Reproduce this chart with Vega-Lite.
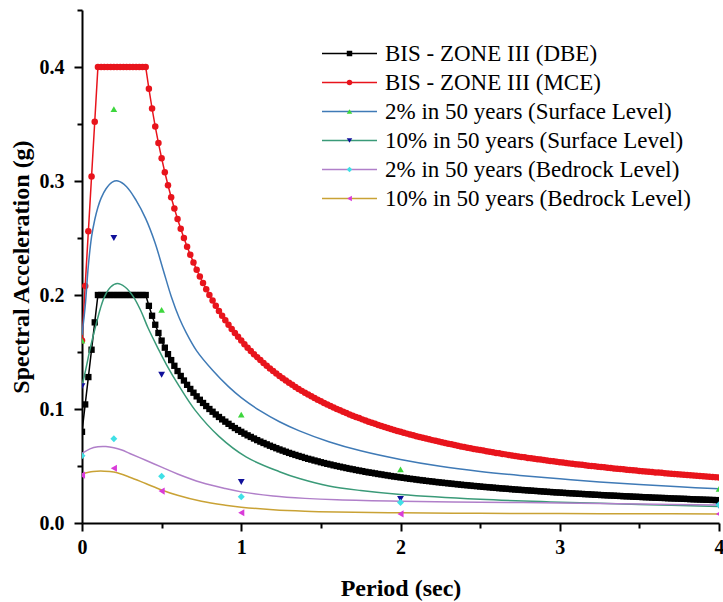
{
"$schema":"https://vega.github.io/schema/vega-lite/v6.json",
"width":637,"height":513,
"autosize":{"type":"none"},
"padding":{"left":82,"top":10,"right":4,"bottom":79},
"config":{"view":{"stroke":null},"font":"Liberation Serif"},
"datasets":{
"bis":[
{"T":0,"D":0.08,"M":0.16},{"T":0.02,"D":0.104,"M":0.208},{"T":0.04,"D":0.128,"M":0.256},{"T":0.06,"D":0.152,"M":0.304},{"T":0.08,"D":0.176,"M":0.352},
{"T":0.1,"D":0.2,"M":0.4},{"T":0.12,"D":0.2,"M":0.4},{"T":0.14,"D":0.2,"M":0.4},{"T":0.16,"D":0.2,"M":0.4},{"T":0.18,"D":0.2,"M":0.4},{"T":0.2,"D":0.2,"M":0.4},{"T":0.22,"D":0.2,"M":0.4},{"T":0.24,"D":0.2,"M":0.4},{"T":0.26,"D":0.2,"M":0.4},{"T":0.28,"D":0.2,"M":0.4},{"T":0.3,"D":0.2,"M":0.4},{"T":0.32,"D":0.2,"M":0.4},{"T":0.34,"D":0.2,"M":0.4},{"T":0.36,"D":0.2,"M":0.4},{"T":0.38,"D":0.2,"M":0.4},{"T":0.4,"D":0.2,"M":0.4},
{"T":0.42,"D":0.1905,"M":0.381},{"T":0.44,"D":0.1818,"M":0.3636},{"T":0.46,"D":0.1739,"M":0.3478},{"T":0.48,"D":0.1667,"M":0.3333},{"T":0.5,"D":0.16,"M":0.32},{"T":0.52,"D":0.1538,"M":0.3077},{"T":0.54,"D":0.1481,"M":0.2963},{"T":0.56,"D":0.1429,"M":0.2857},{"T":0.58,"D":0.1379,"M":0.2759},{"T":0.6,"D":0.1333,"M":0.2667},
{"T":0.62,"D":0.129,"M":0.2581},{"T":0.64,"D":0.125,"M":0.25},{"T":0.66,"D":0.1212,"M":0.2424},{"T":0.68,"D":0.1176,"M":0.2353},{"T":0.7,"D":0.1143,"M":0.2286},{"T":0.72,"D":0.1111,"M":0.2222},{"T":0.74,"D":0.1081,"M":0.2162},{"T":0.76,"D":0.1053,"M":0.2105},{"T":0.78,"D":0.1026,"M":0.2051},{"T":0.8,"D":0.1,"M":0.2},
{"T":0.82,"D":0.0976,"M":0.1951},{"T":0.84,"D":0.0952,"M":0.1905},{"T":0.86,"D":0.093,"M":0.186},{"T":0.88,"D":0.0909,"M":0.1818},{"T":0.9,"D":0.0889,"M":0.1778},{"T":0.92,"D":0.087,"M":0.1739},{"T":0.94,"D":0.0851,"M":0.1702},{"T":0.96,"D":0.0833,"M":0.1667},{"T":0.98,"D":0.0816,"M":0.1633},{"T":1,"D":0.08,"M":0.16},
{"T":1.02,"D":0.0784,"M":0.1569},{"T":1.04,"D":0.0769,"M":0.1538},{"T":1.06,"D":0.0755,"M":0.1509},{"T":1.08,"D":0.0741,"M":0.1481},{"T":1.1,"D":0.0727,"M":0.1455},{"T":1.12,"D":0.0714,"M":0.1429},{"T":1.14,"D":0.0702,"M":0.1404},{"T":1.16,"D":0.069,"M":0.1379},{"T":1.18,"D":0.0678,"M":0.1356},{"T":1.2,"D":0.0667,"M":0.1333},
{"T":1.22,"D":0.0656,"M":0.1311},{"T":1.24,"D":0.0645,"M":0.129},{"T":1.26,"D":0.0635,"M":0.127},{"T":1.28,"D":0.0625,"M":0.125},{"T":1.3,"D":0.0615,"M":0.1231},{"T":1.32,"D":0.0606,"M":0.1212},{"T":1.34,"D":0.0597,"M":0.1194},{"T":1.36,"D":0.0588,"M":0.1176},{"T":1.38,"D":0.058,"M":0.1159},{"T":1.4,"D":0.0571,"M":0.1143},
{"T":1.42,"D":0.0563,"M":0.1127},{"T":1.44,"D":0.0556,"M":0.1111},{"T":1.46,"D":0.0548,"M":0.1096},{"T":1.48,"D":0.0541,"M":0.1081},{"T":1.5,"D":0.0533,"M":0.1067},{"T":1.52,"D":0.0526,"M":0.1053},{"T":1.54,"D":0.0519,"M":0.1039},{"T":1.56,"D":0.0513,"M":0.1026},{"T":1.58,"D":0.0506,"M":0.1013},{"T":1.6,"D":0.05,"M":0.1},
{"T":1.62,"D":0.0494,"M":0.0988},{"T":1.64,"D":0.0488,"M":0.0976},{"T":1.66,"D":0.0482,"M":0.0964},{"T":1.68,"D":0.0476,"M":0.0952},{"T":1.7,"D":0.0471,"M":0.0941},{"T":1.72,"D":0.0465,"M":0.093},{"T":1.74,"D":0.046,"M":0.092},{"T":1.76,"D":0.0455,"M":0.0909},{"T":1.78,"D":0.0449,"M":0.0899},{"T":1.8,"D":0.0444,"M":0.0889},
{"T":1.82,"D":0.044,"M":0.0879},{"T":1.84,"D":0.0435,"M":0.087},{"T":1.86,"D":0.043,"M":0.086},{"T":1.88,"D":0.0426,"M":0.0851},{"T":1.9,"D":0.0421,"M":0.0842},{"T":1.92,"D":0.0417,"M":0.0833},{"T":1.94,"D":0.0412,"M":0.0825},{"T":1.96,"D":0.0408,"M":0.0816},{"T":1.98,"D":0.0404,"M":0.0808},{"T":2,"D":0.04,"M":0.08},
{"T":2.02,"D":0.0396,"M":0.0792},{"T":2.04,"D":0.0392,"M":0.0784},{"T":2.06,"D":0.0388,"M":0.0777},{"T":2.08,"D":0.0385,"M":0.0769},{"T":2.1,"D":0.0381,"M":0.0762},{"T":2.12,"D":0.0377,"M":0.0755},{"T":2.14,"D":0.0374,"M":0.0748},{"T":2.16,"D":0.037,"M":0.0741},{"T":2.18,"D":0.0367,"M":0.0734},{"T":2.2,"D":0.0364,"M":0.0727},
{"T":2.22,"D":0.036,"M":0.0721},{"T":2.24,"D":0.0357,"M":0.0714},{"T":2.26,"D":0.0354,"M":0.0708},{"T":2.28,"D":0.0351,"M":0.0702},{"T":2.3,"D":0.0348,"M":0.0696},{"T":2.32,"D":0.0345,"M":0.069},{"T":2.34,"D":0.0342,"M":0.0684},{"T":2.36,"D":0.0339,"M":0.0678},{"T":2.38,"D":0.0336,"M":0.0672},{"T":2.4,"D":0.0333,"M":0.0667},
{"T":2.42,"D":0.0331,"M":0.0661},{"T":2.44,"D":0.0328,"M":0.0656},{"T":2.46,"D":0.0325,"M":0.065},{"T":2.48,"D":0.0323,"M":0.0645},{"T":2.5,"D":0.032,"M":0.064},{"T":2.52,"D":0.0317,"M":0.0635},{"T":2.54,"D":0.0315,"M":0.063},{"T":2.56,"D":0.0313,"M":0.0625},{"T":2.58,"D":0.031,"M":0.062},{"T":2.6,"D":0.0308,"M":0.0615},
{"T":2.62,"D":0.0305,"M":0.0611},{"T":2.64,"D":0.0303,"M":0.0606},{"T":2.66,"D":0.0301,"M":0.0602},{"T":2.68,"D":0.0299,"M":0.0597},{"T":2.7,"D":0.0296,"M":0.0593},{"T":2.72,"D":0.0294,"M":0.0588},{"T":2.74,"D":0.0292,"M":0.0584},{"T":2.76,"D":0.029,"M":0.058},{"T":2.78,"D":0.0288,"M":0.0576},{"T":2.8,"D":0.0286,"M":0.0571},
{"T":2.82,"D":0.0284,"M":0.0567},{"T":2.84,"D":0.0282,"M":0.0563},{"T":2.86,"D":0.028,"M":0.0559},{"T":2.88,"D":0.0278,"M":0.0556},{"T":2.9,"D":0.0276,"M":0.0552},{"T":2.92,"D":0.0274,"M":0.0548},{"T":2.94,"D":0.0272,"M":0.0544},{"T":2.96,"D":0.027,"M":0.0541},{"T":2.98,"D":0.0268,"M":0.0537},{"T":3,"D":0.0267,"M":0.0533},
{"T":3.02,"D":0.0265,"M":0.053},{"T":3.04,"D":0.0263,"M":0.0526},{"T":3.06,"D":0.0261,"M":0.0523},{"T":3.08,"D":0.026,"M":0.0519},{"T":3.1,"D":0.0258,"M":0.0516},{"T":3.12,"D":0.0256,"M":0.0513},{"T":3.14,"D":0.0255,"M":0.051},{"T":3.16,"D":0.0253,"M":0.0506},{"T":3.18,"D":0.0252,"M":0.0503},{"T":3.2,"D":0.025,"M":0.05},
{"T":3.22,"D":0.0248,"M":0.0497},{"T":3.24,"D":0.0247,"M":0.0494},{"T":3.26,"D":0.0245,"M":0.0491},{"T":3.28,"D":0.0244,"M":0.0488},{"T":3.3,"D":0.0242,"M":0.0485},{"T":3.32,"D":0.0241,"M":0.0482},{"T":3.34,"D":0.024,"M":0.0479},{"T":3.36,"D":0.0238,"M":0.0476},{"T":3.38,"D":0.0237,"M":0.0473},{"T":3.4,"D":0.0235,"M":0.0471},
{"T":3.42,"D":0.0234,"M":0.0468},{"T":3.44,"D":0.0233,"M":0.0465},{"T":3.46,"D":0.0231,"M":0.0462},{"T":3.48,"D":0.023,"M":0.046},{"T":3.5,"D":0.0229,"M":0.0457},{"T":3.52,"D":0.0227,"M":0.0455},{"T":3.54,"D":0.0226,"M":0.0452},{"T":3.56,"D":0.0225,"M":0.0449},{"T":3.58,"D":0.0223,"M":0.0447},{"T":3.6,"D":0.0222,"M":0.0444},
{"T":3.62,"D":0.0221,"M":0.0442},{"T":3.64,"D":0.022,"M":0.044},{"T":3.66,"D":0.0219,"M":0.0437},{"T":3.68,"D":0.0217,"M":0.0435},{"T":3.7,"D":0.0216,"M":0.0432},{"T":3.72,"D":0.0215,"M":0.043},{"T":3.74,"D":0.0214,"M":0.0428},{"T":3.76,"D":0.0213,"M":0.0426},{"T":3.78,"D":0.0212,"M":0.0423},{"T":3.8,"D":0.0211,"M":0.0421},
{"T":3.82,"D":0.0209,"M":0.0419},{"T":3.84,"D":0.0208,"M":0.0417},{"T":3.86,"D":0.0207,"M":0.0415},{"T":3.88,"D":0.0206,"M":0.0412},{"T":3.9,"D":0.0205,"M":0.041},{"T":3.92,"D":0.0204,"M":0.0408},{"T":3.94,"D":0.0203,"M":0.0406},{"T":3.96,"D":0.0202,"M":0.0404},{"T":3.98,"D":0.0201,"M":0.0402},{"T":4,"D":0.02,"M":0.04}
],
"fit":[
{"s":"S2","T":0,"v":0.165},{"s":"S2","T":0.02,"v":0.19},{"s":"S2","T":0.04,"v":0.226},{"s":"S2","T":0.06,"v":0.251},{"s":"S2","T":0.08,"v":0.266},{"s":"S2","T":0.1,"v":0.277},{"s":"S2","T":0.12,"v":0.285},{"s":"S2","T":0.15,"v":0.293},{"s":"S2","T":0.19,"v":0.299},{"s":"S2","T":0.226,"v":0.3},{"s":"S2","T":0.28,"v":0.295},{"s":"S2","T":0.34,"v":0.283},{"s":"S2","T":0.4,"v":0.267},{"s":"S2","T":0.457,"v":0.2465},{"s":"S2","T":0.51,"v":0.222},{"s":"S2","T":0.562,"v":0.198},{"s":"S2","T":0.61,"v":0.18},{"s":"S2","T":0.654,"v":0.167},{"s":"S2","T":0.72,"v":0.151},{"s":"S2","T":0.82,"v":0.134},{"s":"S2","T":0.92,"v":0.1196},{"s":"S2","T":1,"v":0.11},{"s":"S2","T":1.12,"v":0.0983},{"s":"S2","T":1.24,"v":0.0888},{"s":"S2","T":1.365,"v":0.0808},{"s":"S2","T":1.55,"v":0.0713},{"s":"S2","T":1.75,"v":0.0633},{"s":"S2","T":2,"v":0.0557},{"s":"S2","T":2.25,"v":0.0497},{"s":"S2","T":2.5,"v":0.0452},{"s":"S2","T":2.75,"v":0.0417},{"s":"S2","T":3,"v":0.0388},{"s":"S2","T":3.25,"v":0.036},{"s":"S2","T":3.5,"v":0.0337},{"s":"S2","T":3.75,"v":0.0317},{"s":"S2","T":4,"v":0.03},
{"s":"S10","T":0,"v":0.12},{"s":"S10","T":0.024,"v":0.135},{"s":"S10","T":0.048,"v":0.151},{"s":"S10","T":0.07,"v":0.164},{"s":"S10","T":0.09,"v":0.175},{"s":"S10","T":0.115,"v":0.188},{"s":"S10","T":0.143,"v":0.199},{"s":"S10","T":0.18,"v":0.207},{"s":"S10","T":0.222,"v":0.21},{"s":"S10","T":0.27,"v":0.207},{"s":"S10","T":0.32,"v":0.199},{"s":"S10","T":0.37,"v":0.186},{"s":"S10","T":0.415,"v":0.171},{"s":"S10","T":0.478,"v":0.153},{"s":"S10","T":0.53,"v":0.139},{"s":"S10","T":0.61,"v":0.12},{"s":"S10","T":0.71,"v":0.099},{"s":"S10","T":0.86,"v":0.076},{"s":"S10","T":1.03,"v":0.058},{"s":"S10","T":1.24,"v":0.045},{"s":"S10","T":1.365,"v":0.039},{"s":"S10","T":1.55,"v":0.0325},{"s":"S10","T":1.75,"v":0.0285},{"s":"S10","T":2,"v":0.025},{"s":"S10","T":2.5,"v":0.0208},{"s":"S10","T":2.94,"v":0.0185},{"s":"S10","T":3.5,"v":0.0163},{"s":"S10","T":4,"v":0.0145},
{"s":"B2","T":0,"v":0.061},{"s":"B2","T":0.05,"v":0.065},{"s":"B2","T":0.1,"v":0.0668},{"s":"B2","T":0.15,"v":0.067},{"s":"B2","T":0.2,"v":0.066},{"s":"B2","T":0.25,"v":0.064},{"s":"B2","T":0.3,"v":0.061},{"s":"B2","T":0.4,"v":0.055},{"s":"B2","T":0.5,"v":0.049},{"s":"B2","T":0.6,"v":0.043},{"s":"B2","T":0.75,"v":0.0355},{"s":"B2","T":0.9,"v":0.0302},{"s":"B2","T":1,"v":0.0273},{"s":"B2","T":1.2,"v":0.0237},{"s":"B2","T":1.4,"v":0.0216},{"s":"B2","T":1.6,"v":0.0203},{"s":"B2","T":2,"v":0.019},{"s":"B2","T":2.5,"v":0.0182},{"s":"B2","T":3,"v":0.0176},{"s":"B2","T":3.5,"v":0.0167},{"s":"B2","T":4,"v":0.0157},
{"s":"B10","T":0,"v":0.043},{"s":"B10","T":0.07,"v":0.0452},{"s":"B10","T":0.14,"v":0.0455},{"s":"B10","T":0.2,"v":0.0447},{"s":"B10","T":0.3,"v":0.0402},{"s":"B10","T":0.4,"v":0.0346},{"s":"B10","T":0.5,"v":0.029},{"s":"B10","T":0.6,"v":0.0243},{"s":"B10","T":0.75,"v":0.019},{"s":"B10","T":0.9,"v":0.0156},{"s":"B10","T":1,"v":0.0139},{"s":"B10","T":1.2,"v":0.0116},{"s":"B10","T":1.4,"v":0.0103},{"s":"B10","T":1.6,"v":0.0096},{"s":"B10","T":2,"v":0.0089},{"s":"B10","T":2.5,"v":0.0085},{"s":"B10","T":3,"v":0.0083},{"s":"B10","T":3.5,"v":0.0081},{"s":"B10","T":4,"v":0.008}
],
"pts":[
{"m":"S2","T":0,"v":0.16},{"m":"S2","T":0.2,"v":0.363},{"m":"S2","T":0.5,"v":0.187},{"m":"S2","T":1,"v":0.095},{"m":"S2","T":2,"v":0.047},{"m":"S2","T":4,"v":0.03},
{"m":"S10","T":0,"v":0.12},{"m":"S10","T":0.2,"v":0.25},{"m":"S10","T":0.5,"v":0.13},{"m":"S10","T":1,"v":0.036},{"m":"S10","T":2,"v":0.021},{"m":"S10","T":4,"v":0.015},
{"m":"B2","T":0,"v":0.059},{"m":"B2","T":0.2,"v":0.074},{"m":"B2","T":0.5,"v":0.041},{"m":"B2","T":1,"v":0.023},{"m":"B2","T":2,"v":0.018},{"m":"B2","T":4,"v":0.016},
{"m":"B10","T":0,"v":0.042},{"m":"B10","T":0.2,"v":0.048},{"m":"B10","T":0.5,"v":0.028},{"m":"B10","T":1,"v":0.009},{"m":"B10","T":2,"v":0.008},{"m":"B10","T":4,"v":0.008}
]
},
"encoding":{
"x":{"field":"T","type":"quantitative","title":"Period (sec)","scale":{"domain":[0,4],"nice":false,"zero":false},
"axis":{"values":[0,0.5,1,1.5,2,2.5,3,3.5,4],"labelExpr":"datum.value % 1 === 0 ? '' + datum.value : ''","tickSize":{"condition":{"test":"datum.value % 1 !== 0","value":5},"value":8},"grid":false,"domainColor":"black","domainWidth":2,"tickColor":"black","tickWidth":2,"labelFont":"Liberation Serif","labelFontWeight":"bold","labelFontSize":20,"labelColor":"black","labelPadding":6,"labelFlush":false,"labelOverlap":false,"titleFont":"Liberation Serif","titleFontWeight":"bold","titleFontSize":24,"titleColor":"black","titlePadding":19}},
"y":{"field":"v","type":"quantitative","title":"Spectral Acceleration (g)","scale":{"domain":[0,0.45],"nice":false},
"axis":{"values":[0,0.05,0.1,0.15,0.2,0.25,0.3,0.35,0.4,0.45],"labelExpr":"round(datum.value*100) % 10 === 0 ? format(datum.value, '.1f') : ''","tickSize":{"condition":{"test":"round(datum.value*100) % 10 !== 0","value":5},"value":8},"grid":false,"domainColor":"black","domainWidth":2,"tickColor":"black","tickWidth":2,"labelFont":"Liberation Serif","labelFontWeight":"bold","labelFontSize":20,"labelColor":"black","labelPadding":10,"labelFlush":false,"labelOverlap":false,"titleFont":"Liberation Serif","titleFontWeight":"bold","titleFontSize":24,"titleColor":"black","titlePadding":6}}
},
"layer":[
{"data":{"name":"bis"},"transform":[{"fold":["D","M"],"as":["s","v"]}],
"mark":{"type":"line","strokeWidth":1.5,"clip":true},
"encoding":{"stroke":{"field":"s","type":"nominal",
"scale":{"domain":["D","M","S2","S10","B2","B10"],"range":["#000000","#e8141c","#3f7ab6","#3a9a78","#b07fc9","#c9a235"]},
"legend":{"orient":"none","legendX":256,"legendY":32,"title":null,"padding":0,"symbolType":"M-2.75,0H2.75","symbolSize":400,"symbolStrokeWidth":1.5,"labelFont":"Liberation Serif","labelFontSize":23,"labelColor":"black","labelLimit":400,"labelOffset":24,"rowPadding":5,
"labelExpr":"datum.label == 'D' ? 'BIS - ZONE III (DBE)' : datum.label == 'M' ? 'BIS - ZONE III (MCE)' : datum.label == 'S2' ? '2% in 50 years (Surface Level)' : datum.label == 'S10' ? '10% in 50 years (Surface Level)' : datum.label == 'B2' ? '2% in 50 years (Bedrock Level)' : '10% in 50 years (Bedrock Level)'"}}}},
{"data":{"name":"bis"},"transform":[{"fold":["D","M"],"as":["m","v"]}],
"mark":{"type":"point","filled":true,"opacity":1,"strokeWidth":0,"clip":true},
"encoding":{
"fill":{"field":"m","type":"nominal","scale":{"domain":["D","M","S2","S10","B2","B10","zz"],"range":["#000000","#e8141c","#3dd63d","#10109a","#3fe0e6","#d93bd9","#ffffff"]},
"legend":{"orient":"none","legendX":256,"legendY":32,"title":null,"padding":0,"values":["D","M","S2","S10","B2","B10"],"symbolSize":30,"symbolStrokeWidth":0,"labelFontSize":23,"labelExpr":"''","labelColor":"#ff000000","labelOffset":24,"rowPadding":5}},
"shape":{"field":"m","type":"nominal","scale":{"domain":["D","M","S2","S10","B2","B10","zz"],"range":["square","circle","triangle-up","triangle-down","diamond","triangle-left","circle"]},
"legend":{"orient":"none","legendX":256,"legendY":32,"title":null,"padding":0,"values":["D","M","S2","S10","B2","B10"],"symbolSize":30,"symbolStrokeWidth":0,"labelFontSize":23,"labelExpr":"''","labelColor":"#ff000000","labelOffset":24,"rowPadding":5}},
"size":{"field":"m","type":"nominal","scale":{"domain":["D","M","S2","S10","B2","B10","zz","yy"],"range":[40,55,100,100,100,85,10,10]},"legend":null}}},
{"data":{"name":"fit"},
"mark":{"type":"line","strokeWidth":1.5,"interpolate":"catmull-rom","clip":true},
"encoding":{"stroke":{"field":"s","type":"nominal"}}},
{"data":{"name":"pts"},
"mark":{"type":"point","filled":true,"opacity":1,"strokeWidth":0,"clip":true},
"encoding":{"fill":{"field":"m","type":"nominal"},"shape":{"field":"m","type":"nominal"},"size":{"field":"m","type":"nominal","legend":null}}}
]
}
